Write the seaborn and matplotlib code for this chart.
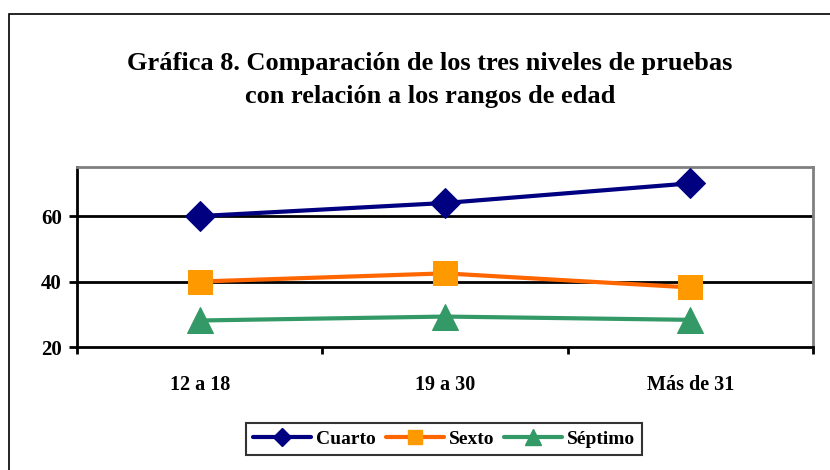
import numpy as np
import pandas as pd
import matplotlib.pyplot as plt
import seaborn as sns
from matplotlib.lines import Line2D

rangos = ["12 a 18", "19 a 30", "Más de 31"]
cuarto = [60, 64, 70]
sexto = [40, 42.5, 38.2]
septimo = [28.1, 29.3, 28.3]

series = ["Cuarto", "Sexto", "Séptimo"]
lineas = ["#000080", "#FF6600", "#339966"]
marcas = ["#000080", "#FF9900", "#339966"]
simbolos = ["D", "s", "^"]
tamanos = [15, 17, 19]

df = pd.DataFrame({
    "rango": rangos * 3,
    "valor": cuarto + sexto + septimo,
    "nivel": [s for s in series for _ in rangos],
})

sns.set_theme(style="white")
plt.rcParams["font.family"] = ["Liberation Serif", "DejaVu Serif"]
plt.rcParams["font.weight"] = "bold"
plt.rcParams["text.color"] = "black"
plt.rcParams["xtick.color"] = "black"
plt.rcParams["ytick.color"] = "black"

fig = plt.figure(figsize=(8.3, 4.7), dpi=100)
ax = fig.add_axes([0.0928, 0.2617, 0.8867, 0.383])

for s, lc, mc, mk, ms in zip(series, lineas, marcas, simbolos, tamanos):
    sub = df[df["nivel"] == s]
    sns.lineplot(data=sub, x="rango", y="valor", ax=ax, color=lc, lw=3,
                 marker=mk, markersize=ms, markerfacecolor=mc,
                 markeredgecolor=mc, legend=False, zorder=3)

ax.set_xlim(-0.5, 2.5)
ax.set_ylim(20, 75)
ax.set_yticks([20, 40, 60])
ax.set_xlabel("")
ax.set_ylabel("")
for y in [40, 60]:
    ax.axhline(y, color="black", lw=2, zorder=1)

ax.set_xticks([0, 1, 2])
ax.set_xticks([-0.5, 0.5, 1.5, 2.5], minor=True)
ax.tick_params(axis="x", which="major", length=0, pad=20, labelsize=14.5)
ax.tick_params(axis="x", which="minor", length=5, width=2, color="black", bottom=True)
ax.tick_params(axis="y", length=6, width=2, color="black", left=True, labelsize=15, pad=5)
for lab in ax.get_xticklabels() + ax.get_yticklabels():
    lab.set_fontweight("bold")

ax.spines["left"].set_color("black")
ax.spines["left"].set_linewidth(2)
ax.spines["bottom"].set_color("black")
ax.spines["bottom"].set_linewidth(2)
ax.spines["top"].set_color("#808080")
ax.spines["top"].set_linewidth(2)
ax.spines["right"].set_color("#808080")
ax.spines["right"].set_linewidth(2)

fig.text(0.518, 0.83,
         "Gráfica 8. Comparación de los tres niveles de pruebas\ncon relación a los rangos de edad",
         ha="center", va="center", fontsize=19, fontweight="bold", linespacing=1.55)

handles = [Line2D([0], [0], color=lc, lw=3, marker=mk, markersize=ms * 0.6,
                  markerfacecolor=mc, markeredgecolor=mc)
           for lc, mc, mk, ms in zip(lineas, marcas, simbolos, tamanos)]
leg = fig.legend(handles, series, loc="center", bbox_to_anchor=(0.535, 0.066),
                 ncol=3, frameon=True, fancybox=False, handlelength=3.0,
                 columnspacing=0.5, handletextpad=0.25, borderpad=0.35,
                 prop={"size": 14, "weight": "bold"})
leg.get_frame().set_edgecolor("black")
leg.get_frame().set_linewidth(1.5)

# borde exterior del gráfico
fig.add_artist(plt.Rectangle((0.011, -0.05), 1.1, 1.02, transform=fig.transFigure,
                             fill=False, edgecolor="black", lw=1.2))

fig.savefig("out.png", dpi=100)
